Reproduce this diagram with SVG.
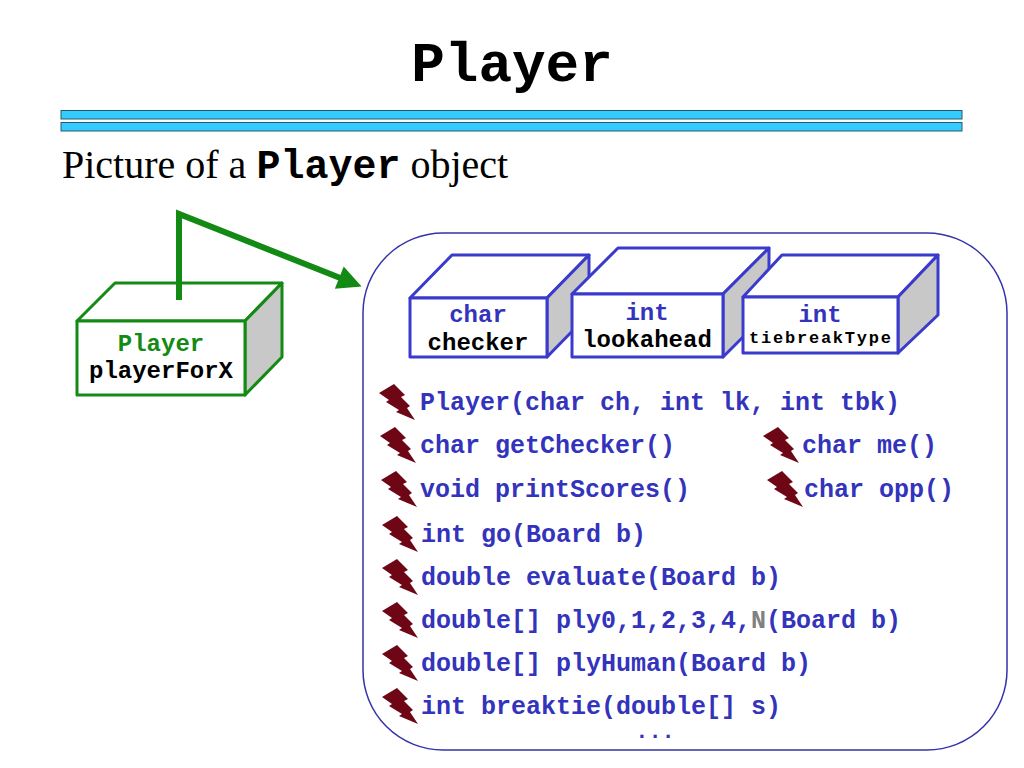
<svg xmlns="http://www.w3.org/2000/svg" xmlns:xlink="http://www.w3.org/1999/xlink" width="1024" height="768" viewBox="0 0 1024 768">
<style>
.mono{font-family:"Liberation Mono","Courier New",monospace;font-weight:bold}
.serif{font-family:"Liberation Serif","Times New Roman",serif}
.blue{fill:#3333bb}
.blk{fill:#000}
.gface{fill:#fff;stroke:#138a13;stroke-width:3;stroke-linejoin:round}
.gside{fill:#c8c8c8;stroke:#138a13;stroke-width:3;stroke-linejoin:round}
.bface{fill:#fff;stroke:#3a3acc;stroke-width:3;stroke-linejoin:round}
.bside{fill:#c8c8c8;stroke:#3a3acc;stroke-width:3;stroke-linejoin:round}
.bar{fill:#33ccff;stroke:#2a5a6a;stroke-width:1}
.bolt{fill:#6e0616}
.meth{font-size:25px}
</style>
<defs>
<marker id="ah" viewBox="0 0 10 10" refX="4.4" refY="5" markerWidth="4.5" markerHeight="4" orient="auto">
<path d="M0,0 L10,5 L0,10 Z" fill="#138a13"/>
</marker>
<path id="bolt" d="M15,0 L0,9 L10,16 L7,18 L20,26 L17,28 L36,36 L28,24 L31,22 L22,13 L26,11 Z"/>
</defs>
<rect width="1024" height="768" fill="#fff"/>
<text class="mono" x="512" y="81" font-size="56" text-anchor="middle" fill="#000">Player</text>
<rect class="bar" x="61" y="110.5" width="901" height="8.5"/>
<rect class="bar" x="61" y="122.5" width="901" height="8.5"/>
<text class="serif" x="62" y="178" font-size="40" fill="#000">Picture of a <tspan class="mono">Player</tspan> object</text>

<g id="frame">
<rect x="363" y="233" width="644" height="517" rx="80" ry="80" fill="none" stroke="#3333aa" stroke-width="1.5"/>
</g>

<g id="playerForX">
<polygon class="gface" points="77,321 115,283 282,283 245,321"/>
<polygon class="gside" points="245,321 282,283 282,357 245,395"/>
<rect class="gface" x="77" y="321" width="168" height="74"/>
<text class="mono" x="161" y="351" font-size="24" text-anchor="middle" fill="#138a13">Player</text>
<text class="mono" x="161" y="378" font-size="24" text-anchor="middle" fill="#000">playerForX</text>
</g>

<g id="connectors">
<polyline points="179,300 179,214 349.1,281.5" fill="none" stroke="#138a13" stroke-width="6" stroke-linejoin="miter" marker-end="url(#ah)"/>
</g>

<g id="checker">
<polygon class="bface" points="410,298 452,255 589,255 547,298"/>
<polygon class="bside" points="547,298 589,255 589,314 547,357"/>
<rect class="bface" x="410" y="298" width="137" height="59"/>
<text class="mono blue" x="478" y="322" font-size="24" text-anchor="middle">char</text>
<text class="mono blk" x="478" y="350" font-size="24" text-anchor="middle">checker</text>
</g>

<g id="lookahead">
<polygon class="bface" points="572,294 618,248 769,248 723,294"/>
<polygon class="bside" points="723,294 769,248 769,311 723,357"/>
<rect class="bface" x="572" y="294" width="151" height="63"/>
<text class="mono blue" x="647" y="320" font-size="24" text-anchor="middle">int</text>
<text class="mono blk" x="647" y="347" font-size="24" text-anchor="middle">lookahead</text>
</g>

<g id="tiebreakType">
<polygon class="bface" points="743,297 782,255 938,255 898,297"/>
<polygon class="bside" points="898,297 938,255 938,315 898,353"/>
<rect class="bface" x="743" y="297" width="155" height="56"/>
<text class="mono blue" x="820" y="322" font-size="24" text-anchor="middle">int</text>
<text class="mono blk" x="820" y="343" font-size="17" text-anchor="middle" textLength="142" lengthAdjust="spacing">tiebreakType</text>
</g>

<g id="methods">
<use xlink:href="#bolt" class="bolt" x="379" y="384"/>
<text class="mono blue meth" x="420" y="410">Player(char ch, int lk, int tbk)</text>
<use xlink:href="#bolt" class="bolt" x="380" y="427"/>
<text class="mono blue meth" x="420" y="453">char getChecker()</text>
<use xlink:href="#bolt" class="bolt" x="763" y="427"/>
<text class="mono blue meth" x="802" y="453">char me()</text>
<use xlink:href="#bolt" class="bolt" x="381" y="471"/>
<text class="mono blue meth" x="420" y="497">void printScores()</text>
<use xlink:href="#bolt" class="bolt" x="767" y="471"/>
<text class="mono blue meth" x="804" y="497">char opp()</text>
<use xlink:href="#bolt" class="bolt" x="382" y="516"/>
<text class="mono blue meth" x="421" y="542">int go(Board b)</text>
<use xlink:href="#bolt" class="bolt" x="382" y="559"/>
<text class="mono blue meth" x="421" y="585">double evaluate(Board b)</text>
<use xlink:href="#bolt" class="bolt" x="382" y="602"/>
<text class="mono blue meth" x="421" y="628">double[] ply0,1,2,3,4,<tspan fill="#808080">N</tspan>(Board b)</text>
<use xlink:href="#bolt" class="bolt" x="382" y="645"/>
<text class="mono blue meth" x="421" y="671">double[] plyHuman(Board b)</text>
<use xlink:href="#bolt" class="bolt" x="382" y="688"/>
<text class="mono blue meth" x="421" y="714">int breaktie(double[] s)</text>
<text class="mono blue" x="655" y="738" font-size="22" text-anchor="middle">...</text>
</g>
</svg>
